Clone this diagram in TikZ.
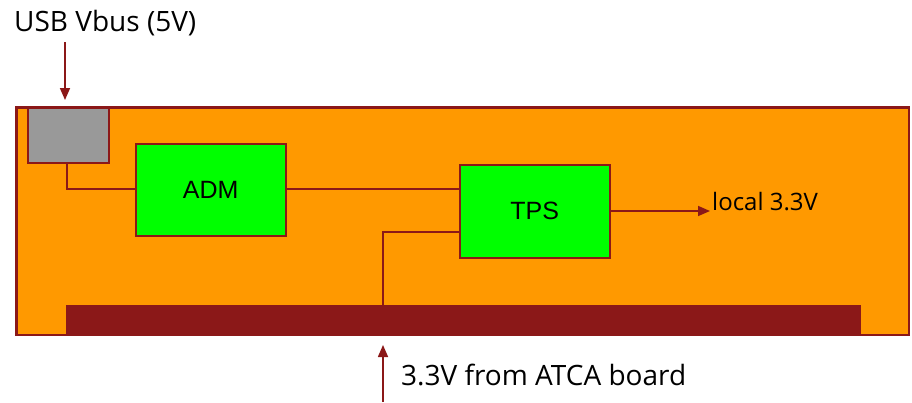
\documentclass[tikz,border=0pt]{standalone}
\usepackage{fontspec}
\setmainfont{Open Sans}
\newfontfamily\arialf{Liberation Sans}
\usetikzlibrary{arrows.meta}
\definecolor{dred}{RGB}{139,24,24}
\definecolor{orng}{RGB}{255,153,0}
\definecolor{grn}{RGB}{0,255,0}
\definecolor{gry}{RGB}{153,153,153}
\begin{document}
\begin{tikzpicture}[x=1pt,y=-1pt,
  blk/.style={draw=dred,line width=1.5pt,fill=grn,font=\arialf\fontsize{25}{30}\selectfont},
  wire/.style={draw=dred,line width=1.6pt},
  arr/.style={wire,-{Triangle[length=12pt,width=10pt]}},
  lbl/.style={inner sep=0pt,anchor=west,text=black}]
\useasboundingbox (0,0) rectangle (912,402);
\fill[white] (0,0) rectangle (912,402);
\node[draw=dred,line width=1.6pt,fill=orng,minimum width=892pt,minimum height=227pt,inner sep=0pt,anchor=north west] (board) at (16,107) {};
\node[fill=dred,minimum width=795pt,minimum height=29pt,inner sep=0pt,anchor=north west] (bar) at (66,305) {};
\draw[dred,line width=1.6pt] (board.north west) rectangle (board.south east);
\node[draw=dred,line width=1.5pt,fill=gry,minimum width=81pt,minimum height=55pt,inner sep=0pt,anchor=north west] (usb) at (27,107) {};
\node[blk,minimum width=150pt,minimum height=92pt,inner sep=0pt,anchor=north west] (adm) at (135,143) {ADM};
\node[blk,minimum width=150pt,minimum height=93pt,inner sep=0pt,anchor=north west] (tps) at (459,164) {TPS};
\coordinate (c1) at (67,189);
\coordinate (c2) at (383,232);
\draw[wire] (usb.south -| c1) |- (adm.west |- c1);
\draw[wire] (adm.east |- c1) -- (tps.west |- c1);
\draw[wire] (bar.north -| c2) |- (tps.west |- c2);
\coordinate (lo) at (710,211);
\draw[arr] (tps.east |- lo) -- (lo);
\node[lbl,font=\fontsize{24}{28}\selectfont] (local) at (712,202) {local 3.3V};
\node[lbl,font=\fontsize{28}{34}\selectfont] (usbt) at (14,23) {USB Vbus (5V)};
\coordinate (ua) at (65,42);
\coordinate (ub) at (65,100);
\draw[arr] (ua) -- (ub);
\node[lbl,font=\fontsize{28}{34}\selectfont] (atca) at (401,375) {3.3V from ATCA board};
\coordinate (ab) at (383,402);
\coordinate (at) at (383,345);
\draw[arr] (ab) -- (at);
\end{tikzpicture}
\end{document}
